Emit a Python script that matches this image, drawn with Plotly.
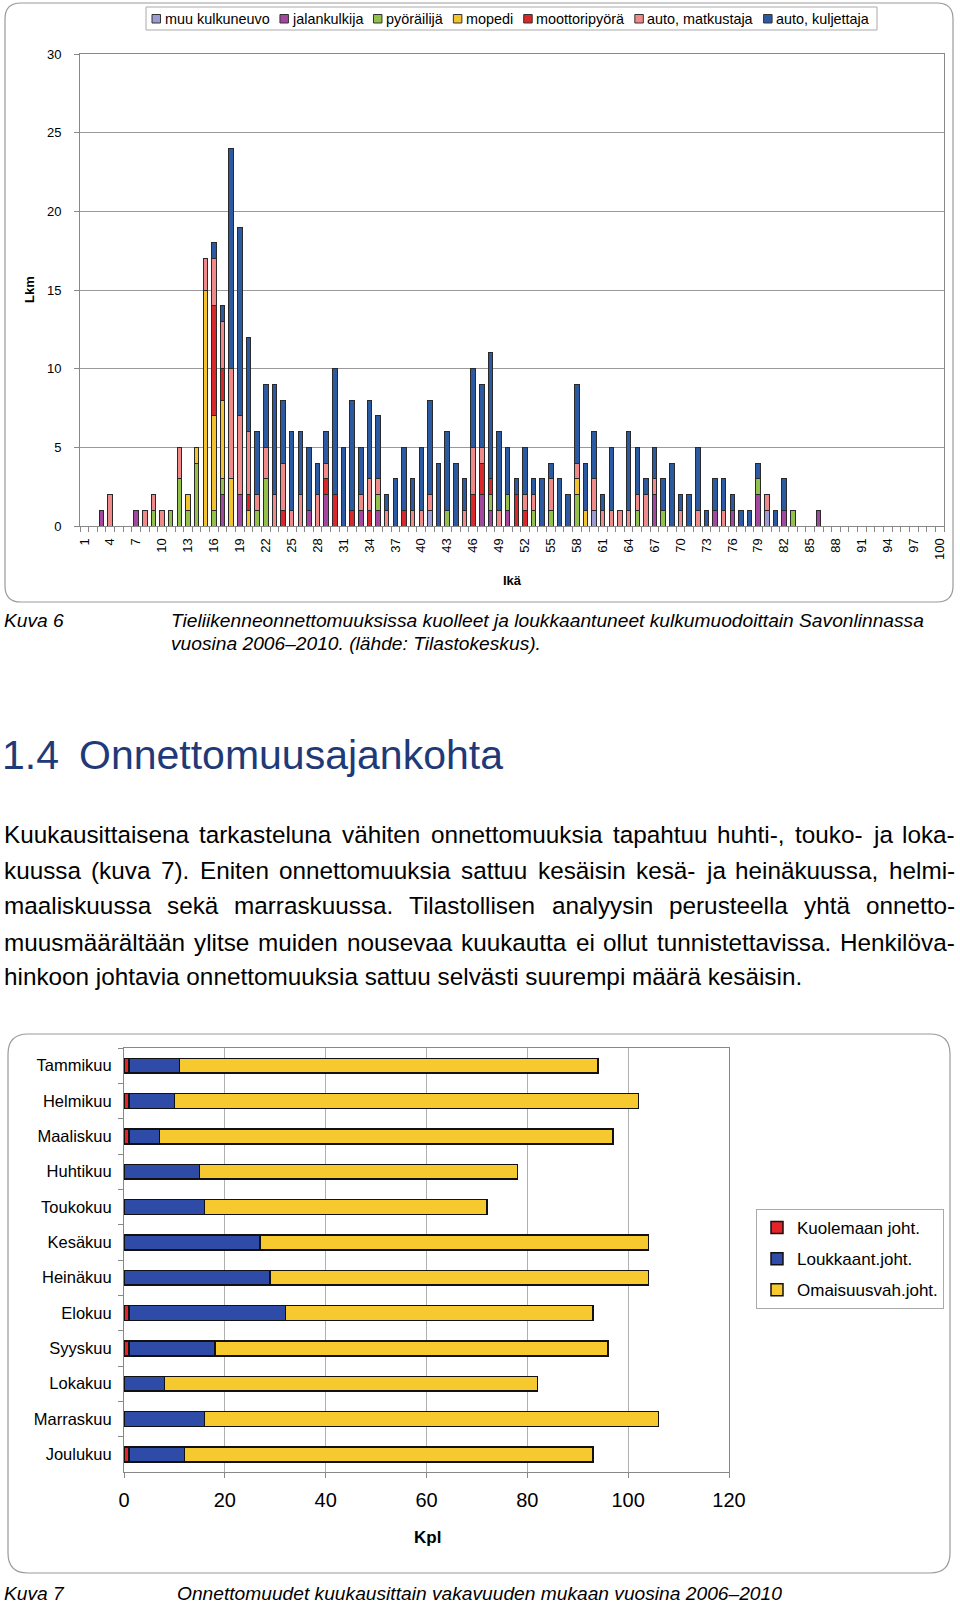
import plotly.graph_objects as go

W, H = 960, 1604
FONT = "Liberation Sans, Arial, sans-serif"

# --- Kuva 6: kuolleet ja loukkaantuneet iän ja kulkumuodon mukaan ---
ages = list(range(1, 101))
age_ticks = [1, 4, 7, 10, 13, 16, 19, 22, 25, 28, 31, 34, 37, 40, 43, 46, 49,
             52, 55, 58, 61, 64, 67, 70, 73, 76, 79, 82, 85, 88, 91, 94, 97, 100]

mode_names = ["muu kulkuneuvo", "jalankulkija", "pyöräilijä", "mopedi",
              "moottoripyörä", "auto, matkustaja", "auto, kuljettaja"]
mode_colors = ["#9C9CD2", "#A4479E", "#92C04A", "#F2C230", "#D8282C",
               "#EE8A8A", "#2C5AA2"]

# ikä 1-20, 21-40, 41-60, 61-80, 81-100
muu = ([0] * 20 +
       [0] * 20 +
       [1, 0, 0, 0, 0, 0, 0, 0, 0, 0, 0, 0, 0, 0, 0, 0, 0, 0, 0, 1] +
       [0, 0, 0, 0, 0, 0, 0, 0, 0, 0, 0, 0, 0, 0, 0, 0, 0, 0, 0, 1] +
       [0] * 20)
jalankulkija = ([0, 0, 1, 0, 0, 0, 1, 0, 0, 0, 0, 0, 0, 0, 0, 0, 2, 0, 2, 0] +
                [0, 0, 0, 0, 0, 0, 1, 0, 2, 0, 0, 0, 1, 0, 1, 0, 0, 0, 0, 0] +
                [0, 0, 0, 0, 0, 0, 2, 1, 0, 1, 0, 0, 0, 0, 0, 0, 0, 0, 0, 0] +
                [0, 0, 0, 0, 0, 0, 2, 0, 0, 0, 0, 0, 0, 1, 0, 1, 0, 0, 2, 0] +
                [0, 1, 0, 0, 0, 1, 0, 0, 0, 0, 0, 0, 0, 0, 0, 0, 0, 0, 0, 0])
pyorailija = ([0, 0, 0, 0, 0, 0, 0, 0, 1, 0, 1, 3, 1, 4, 0, 1, 1, 0, 0, 0] +
              [1, 3, 0, 0, 0, 0, 0, 0, 0, 0, 0, 0, 0, 0, 1, 0, 0, 0, 0, 0] +
              [0, 0, 1, 0, 0, 0, 0, 1, 0, 1, 0, 0, 1, 0, 1, 0, 0, 2, 0, 0] +
              [0, 0, 0, 0, 1, 0, 0, 1, 0, 0, 0, 0, 0, 0, 0, 0, 0, 0, 1, 0] +
              [0, 0, 1, 0, 0, 0, 0, 0, 0, 0, 0, 0, 0, 0, 0, 0, 0, 0, 0, 0])
mopedi = ([0, 0, 0, 0, 0, 0, 0, 0, 0, 0, 0, 0, 1, 1, 15, 6, 5, 3, 0, 1] +
          [0] * 20 +
          [0, 0, 0, 0, 0, 0, 0, 0, 0, 0, 0, 0, 0, 0, 0, 0, 0, 1, 1, 0] +
          [0] * 20 +
          [0] * 20)
moottoripyora = ([0, 0, 0, 0, 0, 0, 0, 0, 0, 0, 0, 0, 0, 0, 0, 7, 2, 0, 0, 1] +
                 [0, 0, 0, 1, 0, 0, 0, 0, 1, 2, 0, 1, 0, 1, 0, 0, 0, 1, 0, 0] +
                 [0, 0, 0, 0, 0, 2, 2, 1, 0, 0, 2, 1, 0, 0, 0, 0, 0, 0, 0, 0] +
                 [0] * 20 +
                 [0] * 20)
matkustaja = ([0, 0, 0, 2, 0, 0, 0, 1, 1, 1, 0, 2, 0, 0, 2, 3, 3, 7, 5, 4] +
              [1, 2, 2, 3, 1, 2, 0, 2, 1, 0, 0, 0, 1, 2, 1, 1, 0, 0, 1, 1] +
              [1, 0, 0, 0, 1, 3, 1, 0, 1, 0, 0, 1, 1, 0, 2, 0, 0, 1, 0, 2] +
              [1, 1, 1, 1, 1, 2, 1, 0, 0, 1, 0, 1, 0, 0, 1, 0, 0, 0, 0, 1] +
              [0] * 20)
kuljettaja = ([0, 0, 0, 0, 0, 0, 0, 0, 0, 0, 0, 0, 0, 0, 0, 1, 1, 14, 12, 6] +
              [4, 4, 7, 4, 5, 4, 4, 2, 2, 8, 5, 7, 3, 5, 4, 1, 3, 4, 2, 4] +
              [6, 4, 5, 4, 2, 5, 4, 8, 5, 3, 1, 3, 1, 3, 1, 3, 2, 5, 3, 3] +
              [1, 4, 0, 5, 3, 1, 2, 2, 4, 1, 2, 4, 1, 2, 2, 1, 1, 1, 1, 0] +
              [1, 2, 0, 0, 0, 0, 0, 0, 0, 0, 0, 0, 0, 0, 0, 0, 0, 0, 0, 0])
mode_values = [muu, jalankulkija, pyorailija, mopedi, moottoripyora,
               matkustaja, kuljettaja]

# --- Kuva 7: onnettomuudet kuukausittain ---
months = ["Tammikuu", "Helmikuu", "Maaliskuu", "Huhtikuu", "Toukokuu", "Kesäkuu",
          "Heinäkuu", "Elokuu", "Syyskuu", "Lokakuu", "Marraskuu", "Joulukuu"]
kuolemaan = [1, 1, 1, 0, 0, 0, 0, 1, 1, 0, 0, 1]
loukkaant = [10, 9, 6, 15, 16, 27, 29, 31, 17, 8, 16, 11]
omaisuusvah = [83, 92, 90, 63, 56, 77, 75, 61, 78, 74, 90, 81]
sev_names = ["Kuolemaan joht.", "Loukkaant.joht.", "Omaisuusvah.joht."]
sev_colors = ["#E5242A", "#2E4BA8", "#F6CA2E"]

paragraph = [
    "Kuukausittaisena tarkasteluna vähiten onnettomuuksia tapahtuu huhti-, touko- ja loka-",
    "kuussa (kuva 7). Eniten onnettomuuksia sattuu kesäisin kesä- ja heinäkuussa, helmi-",
    "maaliskuussa sekä marraskuussa. Tilastollisen analyysin perusteella yhtä onnetto-",
    "muusmäärältään ylitse muiden nousevaa kuukautta ei ollut tunnistettavissa. Henkilöva-",
    "hinkoon johtavia onnettomuuksia sattuu selvästi suurempi määrä kesäisin.",
]


def px(x):
    return x / W


def py(y):
    return 1 - y / H


# Arial / Liberation Sans merkkileveydet (1/1000 em), oletus 556
AW = {}
for chars, w in [("ijl", 222), (" ,.:;ftI", 278), ("r-()", 333), ("cksvxyzJ", 500),
                 ("TFZ", 611), ("ABEKPSVXYÄ", 667), ("CDHNRUw", 722), ("GOQÖ", 778),
                 ("mM", 833), ("W", 944)]:
    for c in chars:
        AW[c] = w


def text_w(s, size):
    return sum(AW.get(c, 556) for c in s) * size / 1000


def rounded_box(x0, y0, x1, y1, r):
    return (f"M{px(x0 + r)},{py(y0)} L{px(x1 - r)},{py(y0)} Q{px(x1)},{py(y0)} {px(x1)},{py(y0 + r)} "
            f"L{px(x1)},{py(y1 - r)} Q{px(x1)},{py(y1)} {px(x1 - r)},{py(y1)} "
            f"L{px(x0 + r)},{py(y1)} Q{px(x0)},{py(y1)} {px(x0)},{py(y1 - r)} "
            f"L{px(x0)},{py(y0 + r)} Q{px(x0)},{py(y0)} {px(x0 + r)},{py(y0)} Z")


def rect(x0, y0, x1, y1, fill, line, lw=1):
    return dict(type="rect", xref="paper", yref="paper",
                x0=px(x0), x1=px(x1), y0=py(y1), y1=py(y0),
                fillcolor=fill, line=dict(color=line, width=lw))


fig = go.Figure()

for name, vals, col in zip(mode_names, mode_values, mode_colors):
    fig.add_trace(go.Bar(
        x=ages, y=vals, name=name, width=0.52, showlegend=False,
        marker=dict(color=col, line=dict(color="#2a2a2a", width=1)),
        xaxis="x", yaxis="y"))

for name, vals, col in zip(sev_names, [kuolemaan, loukkaant, omaisuusvah], sev_colors):
    fig.add_trace(go.Bar(
        y=months, x=vals, name=name, orientation="h", width=0.42,
        marker=dict(color=col, line=dict(color="#111", width=1.5)),
        xaxis="x2", yaxis="y2", legend="legend2", legendgroup=name))

ann = []


def add_text(x, y, text, size, anchor="left", color="black", angle=0):
    ann.append(dict(x=px(x), y=py(y), xref="paper", yref="paper", text=text,
                    showarrow=False, xanchor=anchor, yanchor="middle", textangle=angle,
                    borderpad=0, font=dict(size=size, color=color, family=FONT)))


shapes = [
    dict(type="path", xref="paper", yref="paper", path=rounded_box(5, 3, 953, 602, 16),
         line=dict(color="#9a9a9a", width=1.2), layer="below"),
    dict(type="path", xref="paper", yref="paper", path=rounded_box(8, 1034, 950, 1573, 20),
         line=dict(color="#9a9a9a", width=1.2), layer="below"),
]

# ylemmän kuvan selite (vaakarivi)
shapes.append(rect(146, 7, 877, 30, "white", "#aaaaaa"))
LEG = 14.4
lx = 152
for name, col in zip(mode_names, mode_colors):
    shapes.append(rect(lx, 14.5, lx + 8.5, 23, col, "#333333"))
    add_text(lx + 11.5, 18.5, name, LEG)
    lx += 11.5 + text_w(name, LEG) + 11.6

# akselien otsikot
add_text(29, 290, "<b>Lkm</b>", 13, anchor="center", angle=-90)
add_text(512, 580, "<b>Ikä</b>", 13, anchor="center")
add_text(427, 1537, "<b>Kpl</b>", 17, anchor="center")

# kuvatekstit
CAP = 19.2
add_text(3, 620, "<i>Kuva 6</i>", CAP)
add_text(170, 620, "<i>Tieliikenneonnettomuuksissa kuolleet ja loukkaantuneet kulkumuodoittain Savonlinnassa</i>", CAP)
add_text(170, 643, "<i>vuosina 2006–2010. (lähde: Tilastokeskus).</i>", CAP)
add_text(3, 1593, "<i>Kuva 7</i>", CAP)
add_text(176, 1593, "<i>Onnettomuudet kuukausittain vakavuuden mukaan vuosina 2006–2010</i>", CAP)

# otsikko
add_text(1, 755, "1.4", 41, color="#1F3A78")
add_text(78, 755, "Onnettomuusajankohta", 41, color="#1F3A78")

# tasattu kappale
P_SIZE = 24.3
LEFT, RIGHT = 3, 954
line_y = [834, 870, 906, 942, 977]
for i, (line, yy) in enumerate(zip(paragraph, line_y)):
    if i == len(paragraph) - 1:
        add_text(LEFT, yy, line, P_SIZE)
        continue
    words = line.split(" ")
    gap = (RIGHT - LEFT - sum(text_w(w, P_SIZE) for w in words)) / (len(words) - 1)
    cur = LEFT
    for w in words:
        add_text(cur, yy, w, P_SIZE)
        cur += text_w(w, P_SIZE) + gap

fig.update_layout(
    width=W, height=H, margin=dict(l=0, r=0, t=0, b=0, autoexpand=False),
    paper_bgcolor="white", plot_bgcolor="white",
    barmode="stack", font=dict(family=FONT, color="black"),
    showlegend=True, annotations=ann, shapes=shapes,
    xaxis=dict(domain=[px(80), px(944)], range=[0.5, 100.5], anchor="y",
               tickmode="array", tickvals=age_ticks, tickangle=-90, ticks="",
               tickfont=dict(size=13), showgrid=False, zeroline=False,
               showline=True, linecolor="#888", mirror=True, ticklabelstandoff=6,
               minor=dict(tick0=0.5, dtick=1, ticks="outside", ticklen=5, tickcolor="#888")),
    yaxis=dict(domain=[py(526), py(54)], range=[0, 30], dtick=5, anchor="x",
               showgrid=True, gridcolor="#9a9a9a", zeroline=False,
               ticks="outside", ticklen=5, tickcolor="#888", tickfont=dict(size=13),
               showline=True, linecolor="#888", mirror=True, ticklabelstandoff=10),
    xaxis2=dict(domain=[px(124), px(729)], range=[0, 120], dtick=20, anchor="y2",
                showgrid=True, gridcolor="#b0b0b0", zeroline=False,
                ticks="outside", ticklen=5, tickcolor="#888", tickfont=dict(size=20),
                showline=True, linecolor="#888", mirror=True, ticklabelstandoff=5),
    yaxis2=dict(domain=[py(1472), py(1048)], autorange="reversed", anchor="x2",
                type="category", tickson="boundaries", ticks="outside", ticklen=5,
                tickcolor="#888", tickfont=dict(size=16.5), showgrid=False,
                showline=True, linecolor="#888", mirror=True, ticklabelstandoff=8),
    legend2=dict(x=px(756), y=py(1209), xanchor="left", yanchor="top",
                 traceorder="grouped", bgcolor="white", bordercolor="#aaa", borderwidth=1,
                 tracegroupgap=6, font=dict(size=17, family=FONT)),
)

fig.write_html("out.html", config={"displayModeBar": False},
               post_script="document.body.style.margin='0';document.body.style.overflow='hidden';")
